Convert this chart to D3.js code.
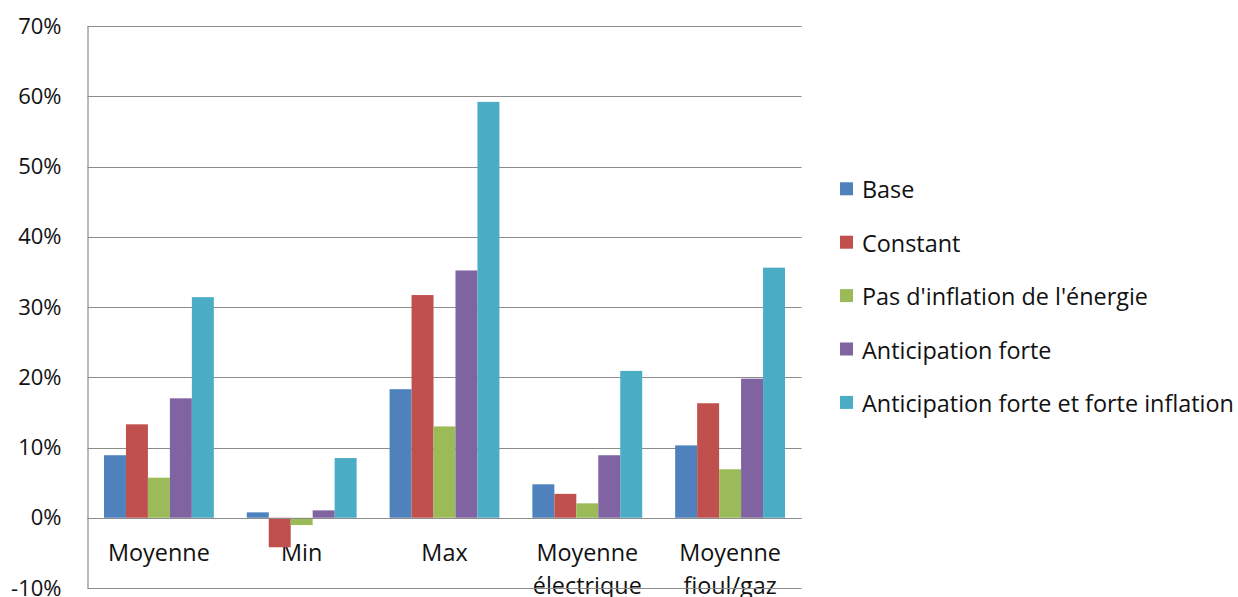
<!DOCTYPE html>
<html><head><meta charset="utf-8">
<script src="https://cdn.jsdelivr.net/npm/d3@7"></script>
<style>
html,body{margin:0;padding:0;background:#fff;}
svg text{font-family:"Open Sans",sans-serif;fill:#111;}
</style></head>
<body>
<svg id="chart" width="1238" height="597"></svg>
<script>
const categories = ["Moyenne","Min","Max","Moyenne électrique","Moyenne fioul/gaz"];
const seriesNames = ["Base","Constant","Pas d'inflation de l'énergie","Anticipation forte","Anticipation forte et forte inflation"];
const base      = [0.089, 0.0077, 0.183, 0.0476, 0.103];
const constant  = [0.133, -0.042, 0.317, 0.034, 0.163];
const pasInfl   = [0.057, -0.0104, 0.130, 0.0205, 0.069];
const anticip   = [0.170, 0.0105, 0.352, 0.089, 0.198];
const anticipInfl = [0.314, 0.085, 0.592, 0.209, 0.356];
const seriesValues = [base, constant, pasInfl, anticip, anticipInfl];
const colors = ["#4F81BD","#C0504D","#9BBB59","#8064A2","#4BACC6"];
const yTicks = [-0.1,0,0.1,0.2,0.3,0.4,0.5,0.6,0.7];

const svg = d3.select("#chart");
const pLeft = 87.5, pRight = 801.5, pTop = 26, pBottom = 588;
const y = d3.scaleLinear().domain([-0.1,0.7]).range([pBottom, pTop]);
const x0 = d3.scaleBand().domain(categories).range([pLeft, pRight]).paddingInner(0).paddingOuter(0);
const barW = x0.bandwidth()/6.5;
const x1 = d3.scaleBand().domain(d3.range(seriesNames.length)).range([0, barW*5]);

const loc = d3.formatLocale({decimal:".",thousands:",",grouping:[3],currency:["",""],minus:"-",percent:"%"});
const fmt = loc.format(".0%");

// y axis labels
const yAxis = svg.append("g").attr("transform", `translate(${pLeft},0)`)
  .call(d3.axisLeft(y).tickValues(yTicks).tickFormat(fmt).tickSize(0).tickPadding(26));
yAxis.select(".domain").remove();
yAxis.selectAll("text").style("font-size","22px").style("font-family","'Open Sans',sans-serif").attr("fill","#111");

// category labels
const lab = svg.append("g").selectAll("text").data(categories).join("text")
  .attr("text-anchor","middle").style("font-size","23.4px")
  .attr("transform", c=>`translate(${x0(c)+x0.bandwidth()/2},0)`);
lab.each(function(c){
  const words = c.split(" ");
  d3.select(this).selectAll("tspan").data(words).join("tspan")
    .attr("x",0).attr("y",(w,i)=>561 + i*32.6).text(w=>w);
});

// gridlines
svg.append("g").selectAll("line").data(yTicks).join("line")
  .attr("x1", pLeft).attr("x2", pRight)
  .attr("y1", d=>Math.round(y(d))+0.5).attr("y2", d=>Math.round(y(d))+0.5)
  .attr("stroke", "#8c8c8c").attr("stroke-width", 1.2);
svg.append("line").attr("x1",pLeft+0.5).attr("x2",pLeft+0.5).attr("y1",pTop).attr("y2",pBottom+0.5)
  .attr("stroke","#8c8c8c").attr("stroke-width",1.2);

// bars
const groups = svg.append("g").selectAll("g").data(categories).join("g")
  .attr("transform", c => `translate(${x0(c) + barW*0.75},0)`);
groups.selectAll("rect").data((c,ci)=>seriesValues.map((s,si)=>({si, v:s[ci]}))).join("rect")
  .attr("x", d=>x1(d.si)).attr("width", x1.bandwidth())
  .attr("y", d=>y(Math.max(0,d.v))).attr("height", d=>Math.abs(y(d.v)-y(0)))
  .attr("fill", d=>colors[d.si]);

// zero line on top
svg.append("line").attr("x1",pLeft).attr("x2",pRight)
  .attr("y1",Math.round(y(0))+0.5).attr("y2",Math.round(y(0))+0.5)
  .attr("stroke","#8c8c8c").attr("stroke-width",1.2);

// legend
const leg = svg.append("g").selectAll("g").data(seriesNames).join("g")
  .attr("transform",(d,i)=>`translate(840,${198.3 + i*53.4})`);
leg.append("rect").attr("x",0).attr("y",-16).attr("width",13).attr("height",13)
  .attr("fill",(d,i)=>colors[i]);
leg.append("text").attr("x",22).attr("y",0).style("font-size","23.4px").text(d=>d);
</script>
</body></html>
